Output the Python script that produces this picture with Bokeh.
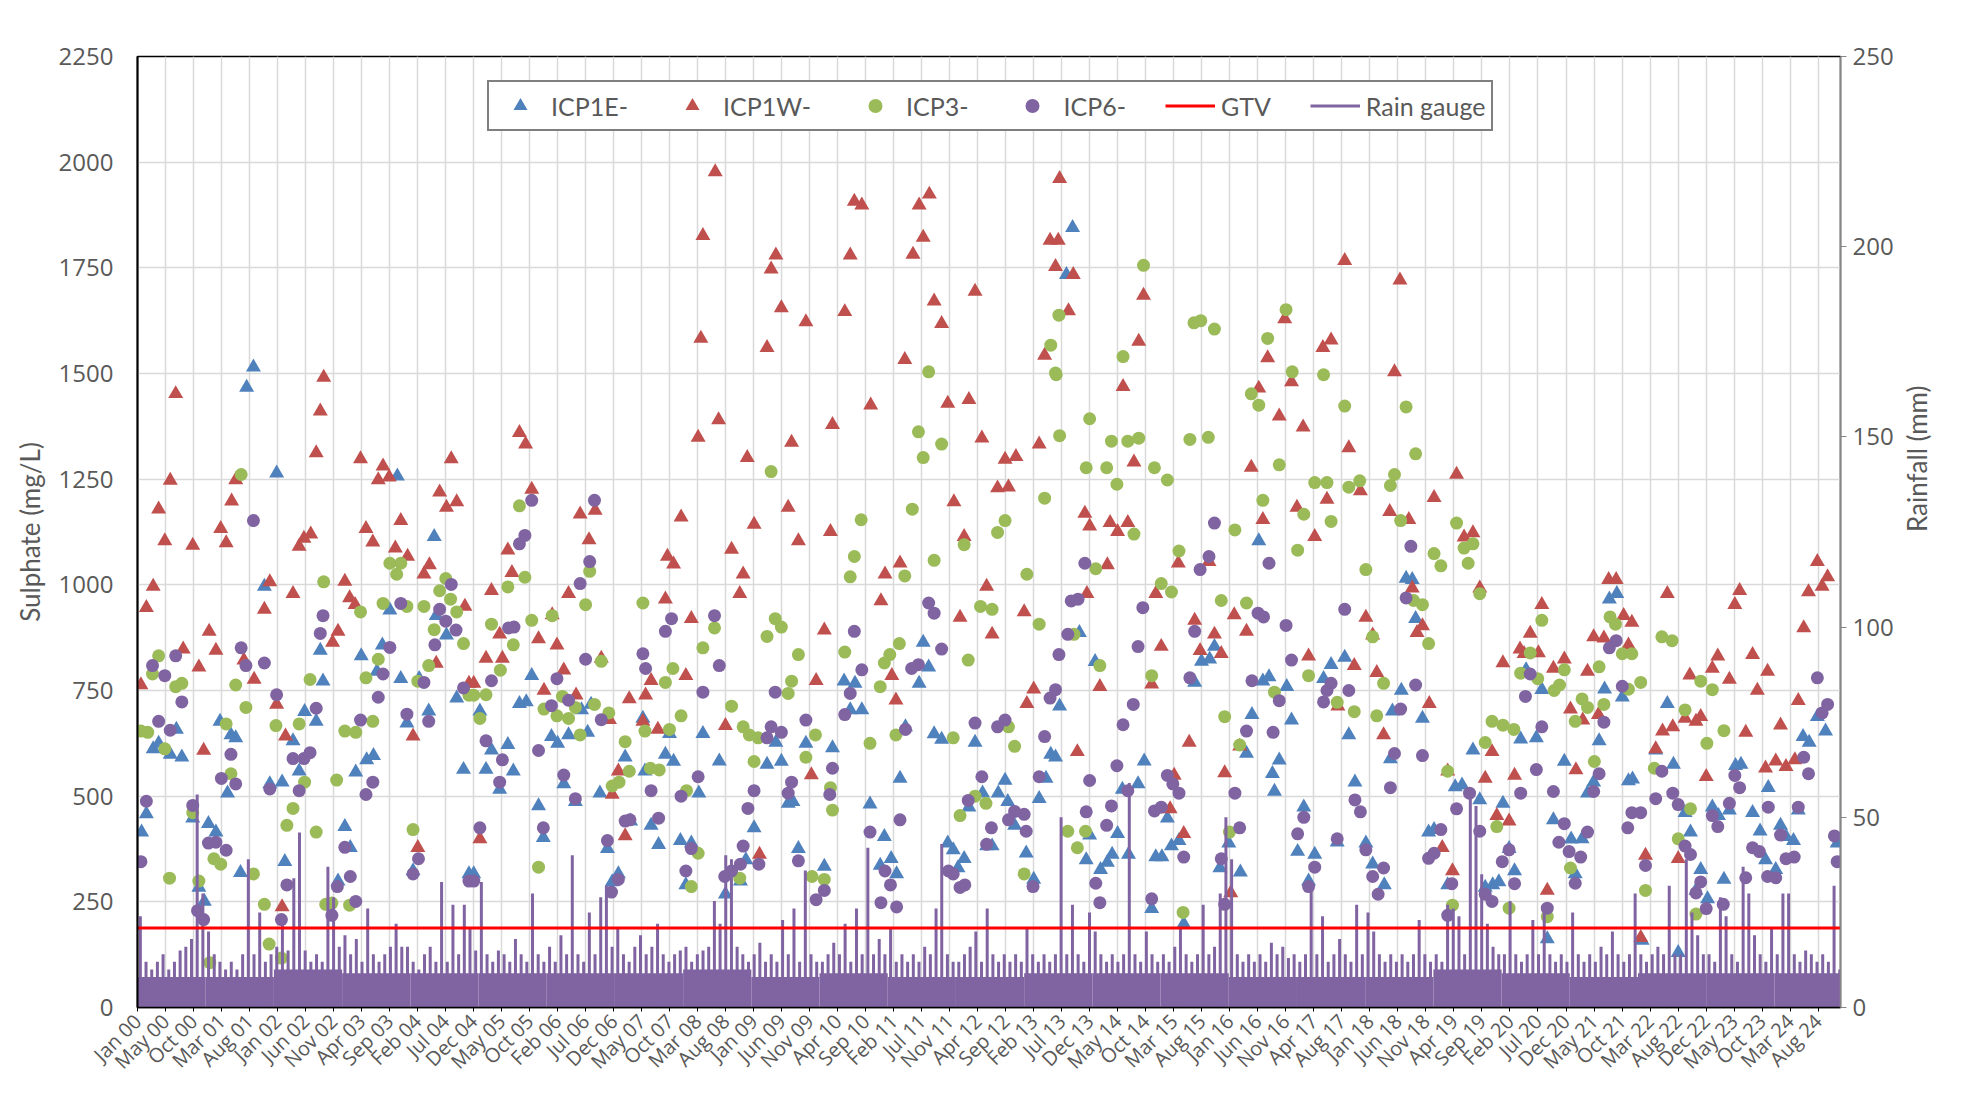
import math
from bokeh.plotting import figure
from bokeh.models import Range1d, LinearAxis, FixedTicker, Legend, LegendItem
from bokeh.embed import file_html
from bokeh.resources import INLINE

# ---------------- data (decimal year, sulphate mg/L) ----------------
icp1e = [
(2000.06,415),(2000.13,458),(2000.23,612),(2000.31,625),(2000.48,599),(2000.57,658),(2000.65,592),(2000.81,448),
(2000.90,284),(2000.98,251),(2001.04,435),(2001.15,415),(2001.21,677),(2001.32,507),(2001.37,645),(2001.44,638),
(2001.51,319),(2001.60,1467),(2001.70,1515),(2001.86,996),(2001.94,529),(2002.04,1264),(2002.12,533),(2002.16,345),
(2002.28,631),(2002.37,559),(2002.45,700),(2002.62,677),(2002.68,845),(2002.72,772),
(2002.94,299),(2003.04,428),(2003.12,378),(2003.20,557),(2003.28,832),(2003.36,586),(2003.46,596),(2003.51,795),
(2003.59,857),(2003.70,940),(2003.81,1257),(2003.86,778),(2003.95,673),(2004.04,323),(2004.13,778),(2004.27,701),
(2004.35,1114),(2004.38,927),(2004.53,881),(2004.68,732),(2004.78,563),(2004.86,316),(2004.93,316),(2005.02,701),
(2005.11,563),(2005.19,609),(2005.31,516),(2005.43,622),(2005.51,559),
(2005.60,719),(2005.70,723),(2005.78,785),(2005.88,477),(2005.95,402),(2006.07,641),(2006.16,625),(2006.25,529),
(2006.32,645),(2006.42,487),(2006.51,704),(2006.60,651),(2006.65,717),(2006.78,507),(2006.89,376),(2006.96,297),
(2007.05,316),(2007.15,592),(2007.23,441),(2007.41,684),(2007.44,559),(2007.53,431),(2007.64,385),(2007.74,599),
(2007.80,648),(2007.86,582),(2007.96,395),(2008.04,290),(2008.12,389),(2008.23,507),(2008.29,648),
(2008.53,583),(2008.62,268),(2008.84,299),(2008.92,349),(2009.04,425),(2009.23,575),(2009.36,627),(2009.44,582),
(2009.54,483),(2009.61,487),(2009.69,376),(2009.80,625),(2010.07,334),(2010.19,614),(2010.36,772),(2010.45,704),
(2010.52,767),(2010.62,704),(2010.74,481),(2010.89,336),(2010.95,404),(2011.05,352),
(2011.13,316),(2011.18,542),(2011.26,664),(2011.46,767),(2011.52,864),(2011.60,805),(2011.68,647),(2011.79,634),
(2011.88,389),(2011.96,373),(2012.03,330),(2012.12,352),(2012.19,474),(2012.28,627),(2012.39,507),(2012.45,382),
(2012.53,382),(2012.62,507),(2012.72,537),(2012.76,487),(2012.86,431),(2013.03,365),(2013.14,303),(2013.22,494),
(2013.32,542),(2013.39,599),(2013.46,592),(2013.52,713),(2013.55,2),(2013.62,1734),(2013.71,1845),(2013.72,0),
(2013.81,887),
(2013.91,349),(2013.96,408),(2014.04,818),(2014.12,326),(2014.22,343),(2014.29,362),(2014.37,411),(2014.44,516),
(2014.53,362),(2014.67,529),(2014.76,583),(2014.87,234),(2014.93,356),(2015.02,356),(2015.10,448),(2015.16,382),
(2015.27,395),(2015.34,198),(2015.50,769),(2015.60,819),(2015.72,824),(2015.79,854),(2015.87,330),(2016.00,389),
(2016.17,320),(2016.26,601),(2016.34,693),(2016.44,1104),(2016.50,772),(2016.59,782),(2016.64,553),
(2016.67,511),(2016.74,585),(2016.85,759),(2016.92,680),(2017.01,369),(2017.10,474),(2017.17,299),(2017.26,362),
(2017.39,778),(2017.50,811),(2017.59,391),(2017.70,828),(2017.76,645),(2017.85,533),(2018.01,389),(2018.11,339),
(2018.28,290),(2018.37,588),(2018.40,701),(2018.53,750),(2018.60,1015),(2018.69,1012),(2018.74,920),(2018.84,684),
(2018.93,415),(2019.01,421),(2019.21,290),(2019.32,522),(2019.42,526),
(2019.58,609),(2019.68,491),(2019.76,284),(2019.87,290),(2019.96,297),(2020.02,483),(2020.11,376),(2020.19,323),
(2020.28,635),(2020.36,799),(2020.51,638),(2020.59,752),(2020.67,162),(2020.76,444),(2020.92,582),(2021.02,398),
(2021.08,316),(2021.18,399),(2021.26,507),(2021.35,533),(2021.43,631),(2021.51,753),(2021.58,966),(2021.69,979),
(2021.77,734),(2021.86,536),(2021.92,540),(2022.06,159),
(2022.26,609),(2022.43,719),(2022.52,575),(2022.59,130),(2022.69,461),(2022.77,415),(2022.85,277),(2022.92,326),
(2023.02,257),(2023.09,474),(2023.18,454),(2023.26,303),(2023.34,467),(2023.43,572),(2023.51,575),(2023.68,461),
(2023.79,417),(2023.87,349),(2023.91,520),(2024.02,326),(2024.09,431),(2024.17,404),(2024.28,395),(2024.35,467),
(2024.42,641),(2024.51,627),(2024.63,688),(2024.75,654),(2024.92,389),
]

icp1w = [
(2000.05,763),(2000.13,946),(2000.23,996),(2000.31,1179),(2000.40,1104),(2000.48,1247),(2000.56,1452),(2000.67,848),
(2000.81,1093),(2000.90,805),(2000.97,608),(2001.05,890),(2001.15,845),(2001.22,1133),(2001.30,1099),(2001.38,1198),
(2001.44,1248),(2001.56,822),(2001.71,776),(2001.86,942),(2001.94,1007),(2002.04,717),(2002.12,238),(2002.17,642),
(2002.28,979),(2002.37,1091),(2002.44,1110),(2002.54,1120),(2002.62,1312),(2002.68,1411),(2002.73,1491),
(2002.86,864),(2002.94,890),(2003.04,1008),(2003.11,969),(2003.19,953),(2003.27,1298),(2003.35,1133),(2003.45,1101),
(2003.53,1248),(2003.60,1281),(2003.69,1255),(2003.78,1087),(2003.86,1152),(2003.96,1067),(2004.04,642),(2004.11,378),
(2004.20,1025),(2004.28,1047),(2004.38,814),(2004.43,1219),(2004.53,1183),(2004.60,1298),(2004.68,1196),(2004.80,949),
(2004.86,767),(2004.93,767),(2005.02,399),(2005.11,826),(2005.19,986),(2005.31,883),(2005.35,826),(2005.43,1082),
(2005.49,1029),
(2005.60,1360),(2005.69,1333),(2005.78,1226),(2005.88,872),(2005.96,750),(2006.08,929),(2006.15,857),(2006.25,798),
(2006.32,979),(2006.43,739),(2006.49,1167),(2006.62,1106),(2006.71,1176),(2006.80,826),(2006.92,681),(2006.96,504),
(2007.05,559),(2007.15,406),(2007.21,730),(2007.41,677),(2007.45,739),(2007.53,773),(2007.63,658),(2007.74,966),
(2007.77,1067),(2007.86,1049),(2007.97,1160),(2008.04,785),(2008.12,920),(2008.22,1349),(2008.26,1583),(2008.29,1826),
(2008.47,1977),(2008.52,1390),(2008.62,667),(2008.71,1084),(2008.83,979),(2008.88,1025),(2008.94,1301),(2009.04,1143),
(2009.12,362),(2009.23,1561),(2009.29,1747),(2009.36,1780),(2009.44,1655),(2009.54,1183),(2009.59,1337),(2009.69,1104),
(2009.80,1622),(2009.88,550),(2009.95,773),(2010.07,893),(2010.16,1126),(2010.19,1379),(2010.37,1646),(2010.45,1780),
(2010.51,1907),(2010.62,1898),(2010.75,1425),(2010.90,962),(2010.96,1025),(2011.06,785),
(2011.12,727),(2011.18,1051),(2011.25,1533),(2011.37,1782),(2011.46,1898),(2011.52,1822),(2011.61,1924),(2011.68,1671),
(2011.79,1618),(2011.88,1429),(2011.97,1196),(2012.06,923),(2012.12,1114),(2012.19,1438),(2012.28,1694),(2012.38,1347),
(2012.45,996),(2012.53,883),(2012.61,1229),(2012.72,1297),(2012.77,1231),(2012.88,1303),(2013.00,936),(2013.04,719),
(2013.14,753),(2013.22,1333),(2013.30,1543),(2013.38,1815),(2013.46,1753),(2013.50,1815),(2013.52,1961),(2013.65,1648),
(2013.72,1734),(2013.78,605),
(2013.89,1169),(2013.92,979),(2013.96,1139),(2014.11,759),(2014.22,1047),(2014.26,1147),(2014.37,1126),(2014.45,1469),
(2014.52,1147),(2014.61,1290),(2014.68,1576),(2014.75,1685),(2014.87,765),(2014.93,979),(2015.01,854),(2015.14,470),
(2015.20,549),(2015.26,1051),(2015.34,411),(2015.42,627),(2015.50,916),(2015.58,844),(2015.71,1055),(2015.79,883),
(2015.89,837),(2015.94,555),(2016.03,271),(2016.08,929),(2016.16,618),(2016.26,890),(2016.33,1278),(2016.44,1465),
(2016.50,1154),(2016.57,1537),
(2016.74,1399),(2016.82,1629),(2016.92,1480),(2017.00,1183),(2017.09,1373),(2017.17,831),(2017.26,1114),(2017.38,1561),
(2017.44,1202),(2017.50,1579),(2017.60,713),(2017.70,1767),(2017.76,1324),(2017.84,809),(2017.93,1222),(2018.01,923),
(2018.11,881),(2018.17,792),(2018.27,645),(2018.36,1173),(2018.43,1504),(2018.51,1721),(2018.64,1154),(2018.69,992),
(2018.76,887),(2018.84,903),(2018.94,719),(2019.01,1206),(2019.13,378),(2019.21,559),(2019.28,323),(2019.34,1261),
(2019.45,1113),(2019.58,1123),(2019.68,992),(2019.76,542),(2019.86,605),(2019.93,454),(2020.02,815),(2020.11,441),
(2020.19,549),(2020.27,848),(2020.33,837),(2020.42,885),(2020.54,839),(2020.59,953),(2020.67,277),(2020.76,802),
(2020.92,824),(2021.01,706),(2021.09,562),(2021.19,680),(2021.26,795),(2021.35,877),(2021.42,693),(2021.50,874),
(2021.57,1012),(2021.68,1012),(2021.79,927),(2021.86,857),(2021.91,911),(2022.04,165),(2022.11,360),
(2022.26,612),(2022.36,654),(2022.43,979),(2022.51,664),(2022.59,352),(2022.69,684),(2022.76,786),(2022.85,677),
(2022.92,688),(2023.00,546),(2023.09,802),(2023.17,831),(2023.34,776),(2023.42,953),(2023.49,986),(2023.58,651),
(2023.68,835),(2023.75,750),(2023.87,566),(2023.90,795),(2024.02,583),(2024.09,668),(2024.17,570),(2024.30,586),
(2024.35,726),(2024.43,898),(2024.50,983),(2024.63,1055),(2024.70,996),(2024.78,1019),
]

icp3 = [
(2000.05,654),(2000.15,651),(2000.22,789),(2000.31,832),(2000.40,612),(2000.47,306),(2000.56,759),(2000.65,767),
(2000.81,461),(2000.90,299),(2001.06,106),(2001.12,352),(2001.22,339),(2001.30,671),(2001.37,553),(2001.44,763),
(2001.52,1261),(2001.59,710),(2001.70,316),(2001.86,244),(2001.93,150),(2002.03,667),(2002.11,117),(2002.19,431),
(2002.28,471),(2002.37,671),(2002.45,533),(2002.53,776),(2002.62,415),(2002.73,1007),(2002.76,244),
(2002.85,247),(2002.92,538),(2003.04,654),(2003.11,242),(2003.20,651),(2003.27,936),(2003.35,780),(2003.45,677),
(2003.53,824),(2003.60,956),(2003.70,1051),(2003.80,1025),(2003.86,1051),(2003.95,949),(2004.04,421),(2004.11,772),
(2004.20,949),(2004.27,809),(2004.35,894),(2004.43,986),(2004.52,1015),(2004.59,966),(2004.68,936),(2004.78,861),
(2004.86,739),(2004.93,739),(2005.02,684),(2005.11,740),(2005.19,907),(2005.32,798),(2005.43,995),(2005.51,858),
(2005.60,1187),(2005.68,1018),(2005.78,916),(2005.88,332),(2005.96,706),(2006.08,927),(2006.15,690),(2006.23,736),
(2006.32,684),(2006.42,710),(2006.49,645),(2006.57,953),(2006.63,1032),(2006.70,717),(2006.80,819),(2006.91,697),
(2006.96,524),(2007.06,533),(2007.15,629),(2007.21,559),(2007.41,957),(2007.44,654),(2007.52,566),(2007.65,562),
(2007.74,769),(2007.80,658),(2007.85,802),(2007.97,690),(2008.05,513),(2008.12,286),(2008.22,365),(2008.29,851),
(2008.46,898),(2008.71,713),(2008.83,306),(2008.88,664),(2008.97,645),(2009.04,582),(2009.10,638),(2009.23,878),
(2009.29,1268),(2009.35,920),(2009.44,900),(2009.54,743),(2009.59,772),(2009.69,835),(2009.80,592),(2009.89,310),
(2009.94,645),(2010.07,303),(2010.16,520),(2010.19,467),(2010.37,841),(2010.45,1019),(2010.51,1067),(2010.61,1154),
(2010.74,625),(2010.89,759),(2010.95,815),(2011.03,835),
(2011.12,645),(2011.17,861),(2011.25,1021),(2011.36,1179),(2011.45,1362),(2011.52,1301),(2011.60,1504),(2011.68,1058),
(2011.79,1333),(2011.96,638),(2012.06,454),(2012.12,1095),(2012.18,822),(2012.28,500),(2012.36,949),(2012.44,483),
(2012.53,942),(2012.61,1124),(2012.72,1152),(2012.77,664),(2012.86,618),(2013.00,316),(2013.04,1025),(2013.22,907),
(2013.30,1205),(2013.39,1567),(2013.46,1501),(2013.47,1497),(2013.51,1638),(2013.52,1353),(2013.64,417),(2013.73,883),
(2013.78,378),
(2013.90,417),(2013.91,1277),(2013.96,1393),(2014.05,1038),(2014.11,809),(2014.21,1277),(2014.28,1340),(2014.36,1238),
(2014.45,1540),(2014.52,1340),(2014.61,1120),(2014.68,1347),(2014.75,1756),(2014.87,785),(2014.91,1277),(2015.01,1003),
(2015.10,1248),(2015.16,983),(2015.27,1080),(2015.33,225),(2015.43,1344),(2015.49,1620),(2015.59,1625),(2015.70,1349),
(2015.79,1605),(2015.89,963),(2015.94,688),(2016.01,415),(2016.09,1130),(2016.16,621),(2016.26,957),(2016.33,1452),
(2016.44,1425),(2016.50,1200),(2016.57,1583),
(2016.67,746),(2016.74,1284),(2016.84,1651),(2016.93,1504),(2017.01,1082),(2017.10,1167),(2017.17,785),(2017.26,1242),
(2017.39,1497),(2017.44,1242),(2017.50,1150),(2017.59,722),(2017.70,1423),(2017.76,1231),(2017.84,700),(2017.92,1246),
(2018.01,1036),(2018.11,877),(2018.17,690),(2018.27,767),(2018.37,1235),(2018.43,1261),(2018.52,1152),(2018.60,1421),
(2018.71,963),(2018.74,1310),(2018.84,953),(2018.93,861),(2019.01,1074),(2019.11,1045),(2019.21,559),(2019.28,242),
(2019.34,1146),
(2019.45,1087),(2019.51,1051),(2019.58,1097),(2019.68,979),(2019.76,627),(2019.86,677),(2019.93,428),(2020.02,668),
(2020.11,235),(2020.18,658),(2020.28,791),(2020.42,839),(2020.53,778),(2020.59,916),(2020.67,215),(2020.77,750),
(2020.85,763),(2020.92,799),(2021.01,330),(2021.08,677),(2021.18,730),(2021.26,710),(2021.36,582),(2021.43,806),
(2021.50,717),(2021.59,924),(2021.67,907),(2021.77,837),(2021.86,753),(2021.91,837),(2022.04,769),(2022.11,277),
(2022.24,566),(2022.35,877),(2022.50,868),(2022.59,399),(2022.69,704),(2022.77,470),(2022.85,221),(2022.92,772),
(2023.01,625),(2023.09,752),(2023.26,655),
]

icp6 = [
(2000.05,345),(2000.13,488),(2000.22,809),(2000.31,677),(2000.40,785),(2000.48,656),(2000.56,832),(2000.65,723),
(2000.81,478),(2000.88,229),(2000.97,208),(2001.04,389),(2001.15,391),(2001.23,542),(2001.30,372),(2001.37,599),
(2001.44,529),(2001.52,851),(2001.59,809),(2001.70,1152),(2001.86,815),(2001.94,517),(2002.04,740),(2002.11,208),
(2002.19,290),(2002.28,589),(2002.37,513),(2002.44,589),(2002.53,603),(2002.62,708),(2002.68,885),(2002.72,927),
(2002.85,218),(2002.93,286),(2003.04,379),(2003.12,310),(2003.20,251),(2003.27,680),(2003.35,504),(2003.45,533),
(2003.53,734),(2003.60,789),(2003.70,852),(2003.86,956),(2003.95,694),(2004.04,316),(2004.12,352),(2004.20,769),
(2004.27,677),(2004.36,858),(2004.43,942),(2004.52,914),(2004.60,1001),(2004.67,893),(2004.78,756),(2004.86,299),
(2004.93,299),(2005.02,425),(2005.11,631),(2005.19,773),(2005.31,533),(2005.35,586),(2005.44,898),(2005.52,900),
(2005.60,1097),(2005.68,1117),(2005.78,1200),(2005.88,608),(2005.95,425),(2006.07,714),(2006.15,778),(2006.25,550),
(2006.32,727),(2006.42,494),(2006.49,1003),(2006.57,824),(2006.63,1055),(2006.70,1200),(2006.80,681),(2006.89,395),
(2006.95,273),(2007.05,303),(2007.15,441),(2007.22,444),(2007.41,837),(2007.45,802),(2007.53,513),(2007.64,448),
(2007.74,890),(2007.83,920),(2007.97,500),(2008.04,323),(2008.12,376),(2008.22,546),(2008.29,746),
(2008.46,927),(2008.53,809),(2008.61,310),(2008.71,323),(2008.84,339),(2008.88,382),(2008.95,471),(2009.04,513),
(2009.11,339),(2009.23,638),(2009.29,664),(2009.35,746),(2009.44,651),(2009.54,507),(2009.59,533),(2009.69,347),
(2009.80,680),(2009.95,255),(2010.07,277),(2010.15,504),(2010.19,566),(2010.37,693),(2010.45,743),(2010.51,890),
(2010.62,799),(2010.74,415),(2010.90,248),(2010.96,323),(2011.04,290),
(2011.13,238),(2011.18,444),(2011.26,658),(2011.35,802),(2011.45,811),(2011.60,957),(2011.68,933),(2011.79,848),
(2011.89,323),(2011.96,316),(2012.06,284),(2012.13,290),(2012.18,490),(2012.28,673),(2012.38,546),(2012.45,386),
(2012.52,425),(2012.61,664),(2012.72,680),(2012.77,444),(2012.86,464),(2013.00,457),(2013.03,417),(2013.13,286),
(2013.22,546),(2013.30,641),(2013.38,732),(2013.46,752),(2013.51,835),(2013.64,883),(2013.69,962),(2013.79,966),
(2013.89,1051),(2013.91,463),(2013.96,537),(2014.05,294),(2014.11,248),(2014.21,431),(2014.28,477),(2014.36,572),
(2014.45,669),(2014.52,513),(2014.60,717),(2014.67,854),(2014.74,946),(2014.87,257),(2014.91,465),(2015.01,474),
(2015.10,549),(2015.18,529),(2015.27,507),(2015.34,356),(2015.43,780),(2015.50,890),(2015.58,1036),(2015.71,1067),
(2015.79,1146),(2015.89,352),(2015.94,244),(2016.09,507),(2016.16,425),(2016.26,654),(2016.34,773),(2016.43,933),
(2016.51,924),(2016.59,1051),(2016.65,651),
(2016.74,726),(2016.84,904),(2016.92,822),(2017.01,411),(2017.10,450),(2017.17,286),(2017.26,332),(2017.39,723),
(2017.44,750),(2017.50,767),(2017.59,399),(2017.70,942),(2017.76,750),(2017.85,491),(2017.93,463),(2018.01,373),
(2018.11,310),(2018.19,268),(2018.27,330),(2018.37,520),(2018.43,601),(2018.52,706),(2018.60,969),(2018.67,1091),
(2018.74,763),(2018.84,596),(2018.93,353),(2019.01,365),(2019.11,421),(2019.21,218),(2019.27,293),(2019.34,470),
(2019.53,507),(2019.68,417),(2019.76,268),(2019.86,251),(2020.01,345),(2020.11,373),(2020.19,293),(2020.28,507),
(2020.35,736),(2020.42,789),(2020.51,563),(2020.59,664),(2020.67,235),(2020.76,511),(2020.84,391),(2020.92,435),
(2020.99,369),(2021.08,294),(2021.16,356),(2021.26,415),(2021.35,511),(2021.43,553),(2021.50,675),(2021.58,851),
(2021.68,868),(2021.77,760),(2021.85,425),(2021.91,461),(2022.04,461),(2022.11,336),
(2022.26,494),(2022.35,559),(2022.51,507),(2022.59,480),(2022.69,382),(2022.77,362),(2022.85,271),(2022.92,297),
(2023.00,234),(2023.09,454),(2023.17,428),(2023.25,244),(2023.34,483),(2023.42,549),(2023.49,520),(2023.58,307),
(2023.68,378),(2023.78,369),(2023.90,310),(2023.91,474),(2024.02,307),(2024.09,408),(2024.17,352),(2024.29,356),
(2024.35,474),(2024.43,592),(2024.50,553),(2024.63,780),(2024.70,697),(2024.78,717),(2024.88,406),(2024.92,345),
]

gtv_value = 188  # mg/L guideline trigger value

# Rain gauge: highest daily rainfall of each month (mm), Jan 2000 .. Dec 2024
rain_first_year = 2000
rain_month_max = [
24,12,10,12,14,10,12,15,16,18,56,30,
20,14,12,10,12,10,14,39,14,25,12,14,
16,23,15,34,46,15,12,14,12,37,29,16,
19,14,18,12,26,14,12,14,16,22,16,16,
12,10,14,16,12,33,12,27,14,27,21,15,
33,14,12,15,14,12,18,14,12,30,14,12,
16,12,19,14,40,14,12,25,14,29,32,16,
21,14,12,16,19,14,16,22,14,12,14,15,
16,12,14,15,16,28,22,40,39,16,14,12,
14,17,12,14,12,23,14,26,12,36,14,12,
12,14,17,14,22,12,26,14,42,14,18,14,
21,12,14,12,14,12,16,14,26,43,14,12,
12,14,16,20,12,26,14,12,14,12,14,12,
21,14,12,14,12,14,50,14,27,14,12,25,
20,14,12,14,12,14,59,14,12,20,14,12,
14,12,16,21,14,12,14,27,14,16,30,50,
39,14,12,14,12,14,12,17,14,16,13,14,
12,14,31,14,24,12,14,18,14,12,27,14,
25,20,14,12,14,12,14,12,14,23,14,12,
14,12,27,26,24,14,56,53,35,22,16,14,
14,28,14,12,14,23,14,27,14,12,14,12,
25,14,12,14,12,16,14,20,14,12,14,30,
14,12,14,16,14,32,14,14,39,25,19,14,
14,12,29,24,14,12,37,30,19,14,12,21,
14,30,30,14,12,15,14,12,14,12,32,10,
]
# typical (frequent) daily rainfall level of each year (mm)
rain_year_base = [8,8,10,9,9,9,9,9,10,8,9,8,8,9,9,9,8,8,8,10,9,8,9,9,9]

tick_labels = ["Jan 00","May 00","Oct 00","Mar 01","Aug 01","Jan 02","Jun 02","Nov 02","Apr 03","Sep 03",
               "Feb 04","Jul 04","Dec 04","May 05","Oct 05","Feb 06","Jul 06","Dec 06","May 07","Oct 07",
               "Mar 08","Aug 08","Jan 09","Jun 09","Nov 09","Apr 10","Sep 10","Feb 11","Jul 11","Nov 11",
               "Apr 12","Sep 12","Feb 13","Jul 13","Dec 13","May 14","Oct 14","Mar 15","Aug 15","Jan 16",
               "Jun 16","Nov 16","Apr 17","Aug 17","Jan 18","Jun 18","Nov 18","Apr 19","Sep 19","Feb 20",
               "Jul 20","Dec 20","May 21","Oct 21","Mar 22","Aug 22","Dec 22","May 23","Oct 23","Mar 24","Aug 24"]

# ---------------- helpers ----------------
def days(y):
    return (y - 2000.0) * 365.25

X_START, X_END = 0.0, 9120.0
TICK_DAYS = 150
xticks = [i * TICK_DAYS for i in range(len(tick_labels))]

GREY_TXT = "#595959"
NUM_FONT = "Open Sans"
NARROW = "Lato"

W, H = 1951, 1090
p = figure(width=W, height=H, output_backend="svg", toolbar_location=None,
           x_range=Range1d(X_START, X_END), y_range=Range1d(0, 2250),
           min_border_left=137, min_border_right=W - 1842, min_border_top=56, min_border_bottom=H - 1007)
p.extra_y_ranges = {"rain": Range1d(0, 250)}
p.background_fill_color = "white"
p.border_fill_color = "white"
p.outline_line_color = "black"
p.outline_line_width = 1.5

# grids
p.xgrid.ticker = FixedTicker(ticks=xticks)
p.ygrid.ticker = FixedTicker(ticks=list(range(0, 2251, 250)))
for g in (p.xgrid, p.ygrid):
    g.grid_line_color = "#D9D9D9"
    g.grid_line_width = 1.5

# x axis
xa = p.xaxis[0]
xa.ticker = FixedTicker(ticks=xticks)
xa.major_label_overrides = {t: lab for t, lab in zip(xticks, tick_labels)}
xa.major_label_orientation = math.pi / 4
xa.major_label_text_font = NUM_FONT
xa.major_label_text_font_size = "20px"
xa.major_label_text_color = GREY_TXT
xa.major_label_standoff = 6
xa.major_tick_out = 4
xa.major_tick_in = 0
xa.minor_tick_line_color = None
xa.axis_line_color = "black"
xa.axis_line_width = 1.5

# left axis
ya = p.yaxis[0]
ya.ticker = FixedTicker(ticks=list(range(0, 2251, 250)))
ya.major_tick_line_color = None
ya.minor_tick_line_color = None
ya.major_tick_out = 0
ya.major_tick_in = 0
ya.major_label_standoff = 24
ya.major_label_text_font = NUM_FONT
ya.major_label_text_font_size = "24px"
ya.major_label_text_color = GREY_TXT
ya.axis_line_color = "black"
ya.axis_line_width = 2
ya.axis_label = "Sulphate (mg/L)"
ya.axis_label_text_font = NARROW
ya.axis_label_text_font_size = "26px"
ya.axis_label_text_font_style = "normal"
ya.axis_label_text_color = GREY_TXT
ya.axis_label_standoff = 10

# right axis
ra = LinearAxis(y_range_name="rain", ticker=FixedTicker(ticks=list(range(0, 251, 50))))
ra.axis_line_color = "#868686"
ra.axis_line_width = 1.5
ra.major_tick_line_color = "#868686"
ra.major_tick_out = 6
ra.major_tick_in = 0
ra.minor_tick_line_color = None
ra.major_label_standoff = 6
ra.major_label_text_font = NUM_FONT
ra.major_label_text_font_size = "24px"
ra.major_label_text_color = GREY_TXT
ra.axis_label = "Rainfall (mm)"
ra.axis_label_text_font = NARROW
ra.axis_label_text_font_size = "26px"
ra.axis_label_text_font_style = "normal"
ra.axis_label_text_color = GREY_TXT
ra.axis_label_standoff = 20
try:
    ra.axis_label_orientation = math.pi / 2   # read bottom-to-top, like the left title
except Exception:
    pass
p.add_layout(ra, "right")

# ---------------- glyphs ----------------
def split(series):
    return [days(a) for a, _ in series], [b for _, b in series]

x1, y1 = split(icp1e)
x2, y2 = split(icp1w)
x3, y3 = split(icp3)
x4, y4 = split(icp6)

r1 = p.scatter(x1, y1, marker="triangle", size=15, fill_color="#4F81BD", line_color=None)
r2 = p.scatter(x2, y2, marker="triangle", size=15, fill_color="#C0504D", line_color=None)
r3 = p.scatter(x3, y3, marker="circle", size=13, fill_color="#9BBB59", line_color=None)
r4 = p.scatter(x4, y4, marker="circle", size=13, fill_color="#8064A2", line_color=None)

# rainfall (secondary axis)
base_left = [days(rain_first_year + i) for i in range(len(rain_year_base))]
base_right = [days(rain_first_year + i + 1) for i in range(len(rain_year_base))]
p.quad(left=base_left, right=base_right, bottom=0, top=rain_year_base, y_range_name="rain",
       fill_color="#8064A2", line_color=None)
rain_x = [days(rain_first_year + (i + 0.5) / 12.0) for i in range(len(rain_month_max))]
r6 = p.segment(x0=rain_x, y0=[0] * len(rain_x), x1=rain_x, y1=rain_month_max, y_range_name="rain",
               line_color="#8064A2", line_width=3)

r5 = p.line([X_START, X_END], [gtv_value, gtv_value], line_color="#FF0000", line_width=3)

legend = Legend(items=[
    LegendItem(label="ICP1E-", renderers=[r1]),
    LegendItem(label="ICP1W-", renderers=[r2]),
    LegendItem(label="ICP3-", renderers=[r3]),
    LegendItem(label="ICP6-", renderers=[r4]),
    LegendItem(label="GTV", renderers=[r5]),
    LegendItem(label="Rain gauge", renderers=[r6]),
], orientation="horizontal", location=(350, 876))
legend.glyph_width = 50
legend.glyph_height = 35
legend.label_standoff = 6
legend.spacing = 39
legend.padding = 6
legend.margin = 0
legend.border_line_color = "black"
legend.border_line_width = 2
legend.background_fill_color = "white"
legend.background_fill_alpha = 1
legend.label_text_font = NARROW
legend.label_text_font_size = "25px"
legend.label_text_color = GREY_TXT
p.add_layout(legend)

open("out.html", "w").write(file_html(p, INLINE))
